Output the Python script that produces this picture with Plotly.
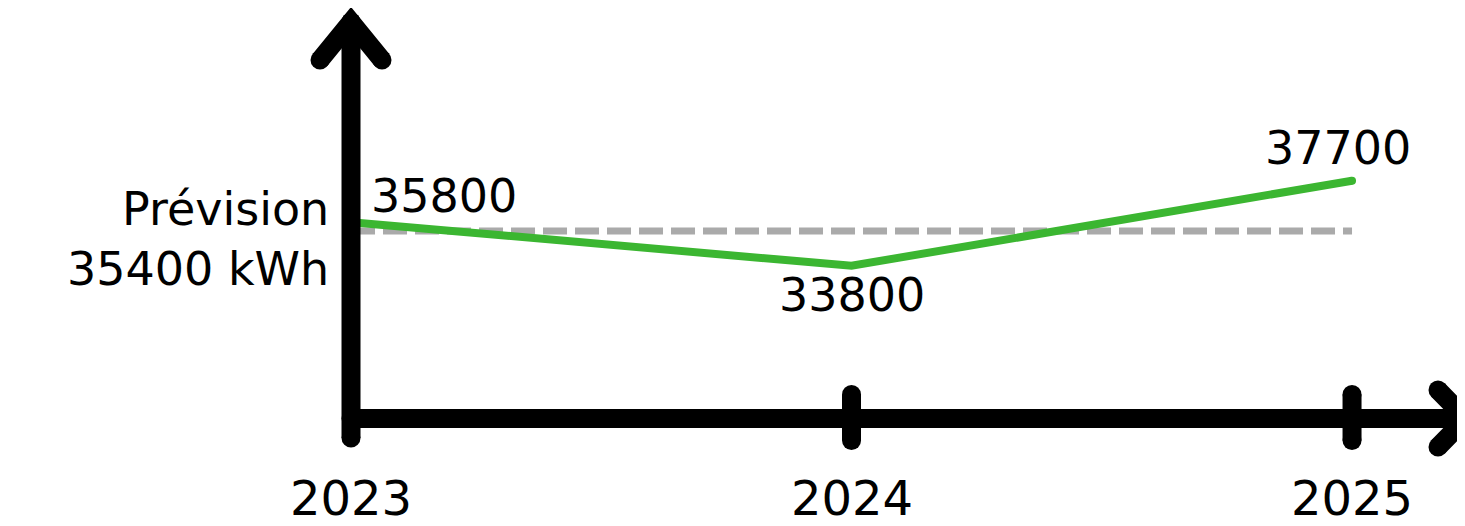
import plotly.graph_objects as go

# ---------------- data ----------------
YEARS = [2023, 2024, 2025]
VALUES = [35800, 33800, 37700]
VALUE_LABELS = ["35800", "33800", "37700"]
TICK_LABELS = ["2023", "2024", "2025"]
FORECAST = 35400
FORECAST_LABEL = "Prévision<br>35400 kWh"

# ---------------- layout constants ----------------
W, H = 1465, 526
OFF = 8  # page body margin of the browser
X_RANGE = [2022.2987 + OFF / 500.5, 2025.2257 + OFF / 500.5]
Y_SPAN = 45981 - 21875
Y_RANGE = [21875 - OFF * Y_SPAN / H, 45981 - OFF * Y_SPAN / H]
FONT = "DejaVu Sans"
GREEN = "#3BB631"
GREY = "#AAAAAA"
AXIS_W = 19


def px_x(p):
    return X_RANGE[0] + (p - OFF) / W * (X_RANGE[1] - X_RANGE[0])


def px_y(p):
    return Y_RANGE[1] - (p - OFF) / H * (Y_RANGE[1] - Y_RANGE[0])


fig = go.Figure()

# forecast dashed line
fig.add_trace(go.Scatter(
    x=[YEARS[0], YEARS[-1]], y=[FORECAST, FORECAST], mode="lines",
    line=dict(color=GREY, width=7, dash="24px,8px"), hoverinfo="skip"))

# consumption line
fig.add_trace(go.Scatter(
    x=YEARS, y=VALUES, mode="lines",
    line=dict(color=GREEN, width=8), hoverinfo="skip"))
fig.add_trace(go.Scatter(
    x=[YEARS[-1]], y=[VALUES[-1]], mode="markers",
    marker=dict(color=GREEN, size=8), hoverinfo="skip"))


def black_path(xs, ys):
    fig.add_trace(go.Scatter(
        x=xs, y=ys, mode="lines+markers",
        line=dict(color="black", width=AXIS_W),
        marker=dict(color="black", size=AXIS_W),
        hoverinfo="skip"))


x_axis_px = 418.5
# y axis with arrow
black_path([YEARS[0], YEARS[0]], [px_y(438), px_y(22)])
black_path([px_x(320), YEARS[0], px_x(382)], [px_y(60), px_y(22), px_y(60)])
# x axis with arrow
black_path([YEARS[0], px_x(1466)], [px_y(x_axis_px), px_y(x_axis_px)])
black_path([px_x(1438), px_x(1466), px_x(1438)], [px_y(390), px_y(x_axis_px), px_y(447)])
# ticks
for yr in YEARS[1:]:
    black_path([yr, yr], [px_y(394.5), px_y(440.5)])

annotations = []
# value labels
label_pos = [
    dict(xanchor="left", xshift=18, yshift=26),
    dict(xanchor="center", xshift=0, yshift=-29),
    dict(xanchor="center", xshift=-14, yshift=33),
]
for yr, v, t, p in zip(YEARS, VALUES, VALUE_LABELS, label_pos):
    annotations.append(dict(
        x=yr, y=v, text=t, showarrow=False, yanchor="middle",
        font=dict(family=FONT, size=46, color="black"), **p))

# forecast label
annotations.append(dict(
    x=YEARS[0], y=FORECAST, text=FORECAST_LABEL, showarrow=False,
    xanchor="right", yanchor="middle", align="right", xshift=-20, yshift=-8,
    font=dict(family=FONT, size=46, color="black")))

# tick labels
for yr, t in zip(YEARS, TICK_LABELS):
    annotations.append(dict(
        x=yr, y=px_y(498), text=t, showarrow=False,
        xanchor="center", yanchor="middle",
        font=dict(family=FONT, size=48, color="black")))

fig.update_layout(
    width=W, height=H,
    margin=dict(l=0, r=0, t=0, b=0),
    paper_bgcolor="white", plot_bgcolor="white",
    showlegend=False,
    xaxis=dict(range=X_RANGE, visible=False, fixedrange=True),
    yaxis=dict(range=Y_RANGE, visible=False, fixedrange=True),
    annotations=annotations,
)

fig.write_html("out.html")
